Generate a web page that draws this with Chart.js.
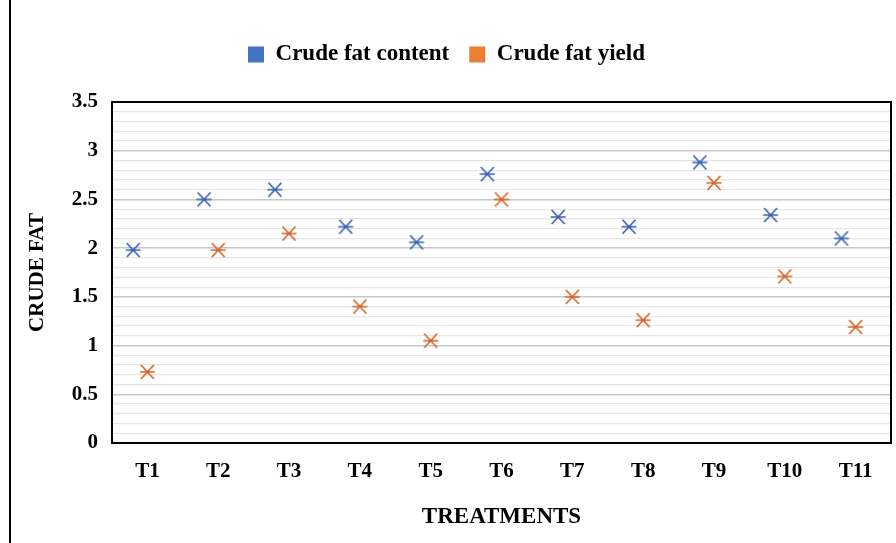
<!DOCTYPE html>
<html>
<head>
<meta charset="utf-8">
<script src="https://cdn.jsdelivr.net/npm/chart.js@4"></script>
<style>
  body { margin: 0; background: #fff; }
  #wrap { position: relative; width: 896px; height: 543px; }
  #edge { position: absolute; left: 9px; top: 0; width: 2px; height: 543px; background: #000; }
</style>
</head>
<body>
<div id="wrap">
  <canvas id="fatChart" width="896" height="543"></canvas>
  <div id="edge"></div>
</div>
<script>
const categories = ["T1", "T2", "T3", "T4", "T5", "T6", "T7", "T8", "T9", "T10", "T11"];
const fatContent = [1.98, 2.50, 2.60, 2.22, 2.06, 2.76, 2.32, 2.22, 2.88, 2.34, 2.10];
const fatYield = [0.73, 1.98, 2.15, 1.40, 1.05, 2.50, 1.50, 1.26, 2.67, 1.71, 1.19];
const yTickLabels = ["0", "0.5", "1", "1.5", "2", "2.5", "3", "3.5"];

const serif = "'Liberation Serif', 'Times New Roman', serif";

// star-ish marker like excel: an X with a bar through it
function marker(color) {
  const c = document.createElement("canvas");
  c.width = 18;
  c.height = 18;
  const g = c.getContext("2d");
  g.strokeStyle = color;
  g.lineWidth = 1.7;
  g.beginPath();
  g.moveTo(2.5, 2); g.lineTo(15.5, 16);
  g.moveTo(15.5, 2); g.lineTo(2.5, 16);
  g.moveTo(1.5, 9); g.lineTo(16.5, 9);
  g.stroke();
  return c;
}

const frame = {
  id: "frame",
  afterDraw(chart) {
    const a = chart.chartArea;
    const ctx = chart.ctx;
    ctx.save();
    ctx.strokeStyle = "#000";
    ctx.lineWidth = 2;
    ctx.strokeRect(a.left, a.top, a.right - a.left, a.bottom - a.top);
    ctx.restore();
  },
};

const legendHeight = {
  id: "legendHeight",
  beforeInit(chart) {
    const fit = chart.legend.fit;
    chart.legend.fit = function () {
      fit.bind(chart.legend)();
      this.height = 79;
    };
  },
};

const ctx = document.getElementById("fatChart").getContext("2d");

new Chart(ctx, {
  type: "scatter",
  data: {
    datasets: [
      {
        label: "Crude fat content",
        data: fatContent.map((v, i) => ({ x: i + 1 - 0.2, y: v })),
        pointStyle: marker("#3a62b0"),
        legendColor: "#4472C4",
      },
      {
        label: "Crude fat yield",
        data: fatYield.map((v, i) => ({ x: i + 1, y: v })),
        pointStyle: marker("#d2652a"),
        legendColor: "#ED7D31",
      },
    ],
  },
  options: {
    responsive: false,
    animation: false,
    layout: { padding: { top: 23, right: 3, left: 0, bottom: 0 } },
    plugins: {
      tooltip: { enabled: false },
      legend: {
        position: "top",
        labels: {
          boxWidth: 16,
          boxHeight: 16,
          padding: 20,
          color: "#000",
          font: { family: serif, size: 23, weight: "bold" },
          generateLabels: (chart) =>
            chart.data.datasets.map((ds, i) => ({
              text: ds.label,
              fillStyle: ds.legendColor,
              strokeStyle: ds.legendColor,
              lineWidth: 0,
              datasetIndex: i,
            })),
        },
      },
    },
    scales: {
      x: {
        type: "linear",
        min: 0.5,
        max: 11.5,
        afterBuildTicks: (scale) => {
          scale.ticks = categories.map((c, i) => ({ value: i + 1 }));
        },
        afterFit: (scale) => { scale.height = 100; },
        grid: { display: false, drawTicks: false },
        border: { display: false },
        ticks: {
          padding: 16,
          color: "#000",
          font: { family: serif, size: 21, weight: "bold" },
          callback: (v) => categories[Math.round(v) - 1],
        },
        title: {
          display: true,
          text: "TREATMENTS",
          color: "#000",
          padding: { top: 0, bottom: 12 },
          font: { family: serif, size: 23, weight: "bold" },
        },
      },
      y: {
        min: 0,
        max: 3.5,
        afterBuildTicks: (scale) => {
          const t = [];
          for (let k = 0; k <= 35; k++) t.push({ value: k / 10 });
          scale.ticks = t;
        },
        afterFit: (scale) => { scale.width = 112; },
        grid: {
          drawTicks: false,
          color: (c) => (Math.round(c.tick.value * 10) % 5 === 0 ? "#c9c9c9" : "#e6e6e6"),
          lineWidth: (c) => (Math.round(c.tick.value * 10) % 5 === 0 ? 1.5 : 1.2),
        },
        border: { display: false },
        ticks: {
          padding: 14,
          autoSkip: false,
          color: "#000",
          font: { family: serif, size: 21, weight: "bold" },
          callback: (v) => {
            const k = Math.round(v * 10);
            return k % 5 === 0 ? yTickLabels[k / 5] : "";
          },
        },
        title: {
          display: true,
          text: "CRUDE FAT",
          color: "#000",
          padding: { top: 25, bottom: 0 },
          font: { family: serif, size: 21, weight: "bold" },
        },
      },
    },
  },
  plugins: [frame, legendHeight],
});
</script>
</body>
</html>
